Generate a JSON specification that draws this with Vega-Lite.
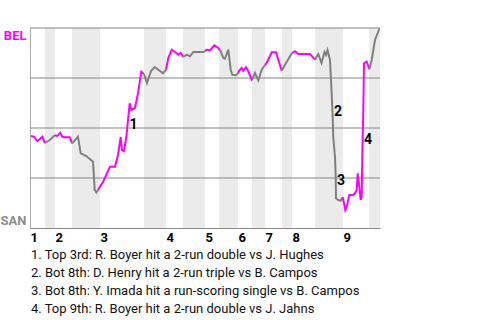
{
  "$schema": "https://vega.github.io/schema/vega-lite/v6.json",
  "autosize": "none",
  "width": 350,
  "height": 200,
  "padding": {"left": 30, "top": 28, "right": 100, "bottom": 92},
  "background": "white",
  "config": {"view": {"stroke": null}, "font": "Roboto"},
  "title": {
    "text": ["1. Top 3rd: R. Boyer hit a 2-run double vs J. Hughes", "2. Bot 8th: D. Henry hit a 2-run triple vs B. Campos", "3. Bot 8th: Y. Imada hit a run-scoring single vs B. Campos", "4. Top 9th: R. Boyer hit a 2-run double vs J. Jahns"],
    "orient": "bottom", "anchor": "start", "frame": "group", "font": "Roboto", "fontSize": 13, "fontWeight": "normal", "color": "#111111", "lineHeight": 18, "offset": 5, "dx": 1
  },
  "datasets": {
    "bands": [
      {"a": 15, "b": 25}, {"a": 42, "b": 70}, {"a": 114, "b": 136}, {"a": 153, "b": 175}, {"a": 189, "b": 208}, {"a": 222, "b": 235}, {"a": 252, "b": 262}, {"a": 285, "b": 313}, {"a": 339, "b": 350}
    ],
    "grid": [{"v": 25}, {"v": 50}, {"v": 75}, {"v": 100}],
    "notes": [
      {"label": "1", "x": 103.5, "y": 51.75},
      {"label": "2", "x": 308, "y": 58},
      {"label": "3", "x": 311, "y": 23.5},
      {"label": "4", "x": 338, "y": 44.25}
    ],
    "wp": [
      {"s": 1, "t": "BEL", "x": 1, "y": 46},
      {"s": 1, "t": "BEL", "x": 4, "y": 45.65},
      {"s": 1, "t": "BEL", "x": 7.3, "y": 43.5},
      {"s": 1, "t": "BEL", "x": 9.7, "y": 44.35},
      {"s": 1, "t": "BEL", "x": 12.3, "y": 45.65},
      {"s": 1, "t": "BEL", "x": 15, "y": 42.5},
      {"s": 2, "t": "SAN", "x": 15, "y": 42.5},
      {"s": 2, "t": "SAN", "x": 19.7, "y": 44},
      {"s": 2, "t": "SAN", "x": 24.7, "y": 46.35},
      {"s": 3, "t": "BEL", "x": 24.7, "y": 46.35},
      {"s": 3, "t": "BEL", "x": 27.3, "y": 46},
      {"s": 3, "t": "BEL", "x": 30.3, "y": 47.65},
      {"s": 3, "t": "BEL", "x": 32.3, "y": 45.65},
      {"s": 3, "t": "BEL", "x": 34.7, "y": 45.35},
      {"s": 3, "t": "BEL", "x": 39.7, "y": 45.35},
      {"s": 3, "t": "BEL", "x": 42.3, "y": 42.35},
      {"s": 4, "t": "SAN", "x": 42.3, "y": 42.35},
      {"s": 4, "t": "SAN", "x": 48, "y": 45.65},
      {"s": 4, "t": "SAN", "x": 50.7, "y": 37.35},
      {"s": 4, "t": "SAN", "x": 56.3, "y": 36},
      {"s": 4, "t": "SAN", "x": 63, "y": 33.15},
      {"s": 4, "t": "SAN", "x": 64.7, "y": 19},
      {"s": 4, "t": "SAN", "x": 66.3, "y": 17.75},
      {"s": 4, "t": "SAN", "x": 68, "y": 19},
      {"s": 5, "t": "BEL", "x": 68, "y": 19},
      {"s": 5, "t": "BEL", "x": 73, "y": 23},
      {"s": 5, "t": "BEL", "x": 80, "y": 30.65},
      {"s": 5, "t": "BEL", "x": 85, "y": 30.65},
      {"s": 5, "t": "BEL", "x": 88, "y": 36.5},
      {"s": 5, "t": "BEL", "x": 90.7, "y": 45.5},
      {"s": 5, "t": "BEL", "x": 92, "y": 39},
      {"s": 5, "t": "BEL", "x": 94, "y": 38.5},
      {"s": 5, "t": "BEL", "x": 96.3, "y": 45.5},
      {"s": 5, "t": "BEL", "x": 99.7, "y": 62.35},
      {"s": 5, "t": "BEL", "x": 101.3, "y": 59},
      {"s": 5, "t": "BEL", "x": 105, "y": 60},
      {"s": 5, "t": "BEL", "x": 108, "y": 67.35},
      {"s": 5, "t": "BEL", "x": 111.3, "y": 78.15},
      {"s": 5, "t": "BEL", "x": 113, "y": 77.35},
      {"s": 5, "t": "BEL", "x": 114, "y": 77},
      {"s": 6, "t": "SAN", "x": 114, "y": 77},
      {"s": 6, "t": "SAN", "x": 117, "y": 72.5},
      {"s": 6, "t": "SAN", "x": 121, "y": 78.5},
      {"s": 6, "t": "SAN", "x": 124.7, "y": 80.5},
      {"s": 6, "t": "SAN", "x": 130, "y": 78.5},
      {"s": 6, "t": "SAN", "x": 133, "y": 77.35},
      {"s": 6, "t": "SAN", "x": 136, "y": 79.15},
      {"s": 7, "t": "BEL", "x": 136, "y": 79.15},
      {"s": 7, "t": "BEL", "x": 138.3, "y": 85},
      {"s": 7, "t": "BEL", "x": 141.7, "y": 89.15},
      {"s": 7, "t": "BEL", "x": 145, "y": 88},
      {"s": 7, "t": "BEL", "x": 148.3, "y": 86.65},
      {"s": 7, "t": "BEL", "x": 150.7, "y": 87.5},
      {"s": 7, "t": "BEL", "x": 153.3, "y": 85.5},
      {"s": 8, "t": "SAN", "x": 153.3, "y": 85.5},
      {"s": 8, "t": "SAN", "x": 156.7, "y": 86.65},
      {"s": 8, "t": "SAN", "x": 160, "y": 85.85},
      {"s": 8, "t": "SAN", "x": 163.3, "y": 88},
      {"s": 8, "t": "SAN", "x": 166.7, "y": 88},
      {"s": 8, "t": "SAN", "x": 173.3, "y": 88},
      {"s": 8, "t": "SAN", "x": 175, "y": 88.5},
      {"s": 9, "t": "BEL", "x": 175, "y": 88.5},
      {"s": 9, "t": "BEL", "x": 176.7, "y": 89.15},
      {"s": 9, "t": "BEL", "x": 180, "y": 88.85},
      {"s": 9, "t": "BEL", "x": 184.3, "y": 91.35},
      {"s": 9, "t": "BEL", "x": 188.3, "y": 90},
      {"s": 9, "t": "BEL", "x": 189.5, "y": 89},
      {"s": 10, "t": "SAN", "x": 189.5, "y": 89},
      {"s": 10, "t": "SAN", "x": 190.7, "y": 88.35},
      {"s": 10, "t": "SAN", "x": 193.3, "y": 85},
      {"s": 10, "t": "SAN", "x": 195, "y": 84.65},
      {"s": 10, "t": "SAN", "x": 198.3, "y": 89.15},
      {"s": 10, "t": "SAN", "x": 200.7, "y": 79.15},
      {"s": 10, "t": "SAN", "x": 202.3, "y": 76.65},
      {"s": 10, "t": "SAN", "x": 205, "y": 76.35},
      {"s": 10, "t": "SAN", "x": 206.7, "y": 76.65},
      {"s": 10, "t": "SAN", "x": 208, "y": 77.5},
      {"s": 11, "t": "BEL", "x": 208, "y": 77.5},
      {"s": 11, "t": "BEL", "x": 209.3, "y": 78.65},
      {"s": 11, "t": "BEL", "x": 211.7, "y": 80},
      {"s": 11, "t": "BEL", "x": 213.3, "y": 78.65},
      {"s": 11, "t": "BEL", "x": 216, "y": 80.35},
      {"s": 11, "t": "BEL", "x": 218.3, "y": 78.35},
      {"s": 11, "t": "BEL", "x": 221.7, "y": 74.15},
      {"s": 11, "t": "BEL", "x": 222.5, "y": 74.75},
      {"s": 12, "t": "SAN", "x": 222.5, "y": 74.75},
      {"s": 12, "t": "SAN", "x": 225, "y": 77.5},
      {"s": 12, "t": "SAN", "x": 228.3, "y": 73.85},
      {"s": 12, "t": "SAN", "x": 231.7, "y": 79.15},
      {"s": 12, "t": "SAN", "x": 235, "y": 81.5},
      {"s": 13, "t": "BEL", "x": 235, "y": 81.5},
      {"s": 13, "t": "BEL", "x": 236.7, "y": 82.5},
      {"s": 13, "t": "BEL", "x": 241.7, "y": 87.85},
      {"s": 13, "t": "BEL", "x": 246, "y": 87.85},
      {"s": 13, "t": "BEL", "x": 251.7, "y": 78.65},
      {"s": 14, "t": "SAN", "x": 251.7, "y": 78.65},
      {"s": 14, "t": "SAN", "x": 255, "y": 81.65},
      {"s": 14, "t": "SAN", "x": 260, "y": 85.85},
      {"s": 14, "t": "SAN", "x": 262, "y": 87.5},
      {"s": 15, "t": "BEL", "x": 262, "y": 87.5},
      {"s": 15, "t": "BEL", "x": 265, "y": 88.35},
      {"s": 15, "t": "BEL", "x": 268.3, "y": 87},
      {"s": 15, "t": "BEL", "x": 273.3, "y": 87},
      {"s": 15, "t": "BEL", "x": 280, "y": 87},
      {"s": 15, "t": "BEL", "x": 285, "y": 84.15},
      {"s": 16, "t": "SAN", "x": 285, "y": 84.15},
      {"s": 16, "t": "SAN", "x": 288.3, "y": 87},
      {"s": 16, "t": "SAN", "x": 291.5, "y": 82.5},
      {"s": 16, "t": "SAN", "x": 294.5, "y": 88},
      {"s": 16, "t": "SAN", "x": 296, "y": 86.5},
      {"s": 16, "t": "SAN", "x": 297.5, "y": 89},
      {"s": 16, "t": "SAN", "x": 300, "y": 84},
      {"s": 16, "t": "SAN", "x": 301.5, "y": 69},
      {"s": 16, "t": "SAN", "x": 302.7, "y": 55},
      {"s": 16, "t": "SAN", "x": 303.3, "y": 45},
      {"s": 16, "t": "SAN", "x": 305, "y": 35.5},
      {"s": 16, "t": "SAN", "x": 305.7, "y": 25.5},
      {"s": 16, "t": "SAN", "x": 306, "y": 14.75},
      {"s": 16, "t": "SAN", "x": 308.3, "y": 14},
      {"s": 16, "t": "SAN", "x": 310.7, "y": 13.65},
      {"s": 16, "t": "SAN", "x": 312.7, "y": 15.35},
      {"s": 17, "t": "BEL", "x": 312.7, "y": 15.35},
      {"s": 17, "t": "BEL", "x": 314, "y": 12.35},
      {"s": 17, "t": "BEL", "x": 315.3, "y": 9},
      {"s": 17, "t": "BEL", "x": 316.7, "y": 10.65},
      {"s": 17, "t": "BEL", "x": 319.3, "y": 16.5},
      {"s": 17, "t": "BEL", "x": 323.3, "y": 16.5},
      {"s": 17, "t": "BEL", "x": 325, "y": 17.35},
      {"s": 17, "t": "BEL", "x": 326.7, "y": 19},
      {"s": 17, "t": "BEL", "x": 327.7, "y": 27.35},
      {"s": 17, "t": "BEL", "x": 329.3, "y": 20.65},
      {"s": 17, "t": "BEL", "x": 330.7, "y": 14},
      {"s": 17, "t": "BEL", "x": 331.7, "y": 15.65},
      {"s": 17, "t": "BEL", "x": 332.3, "y": 36.5},
      {"s": 17, "t": "BEL", "x": 333.3, "y": 59},
      {"s": 17, "t": "BEL", "x": 334, "y": 82.35},
      {"s": 17, "t": "BEL", "x": 336.7, "y": 83.15},
      {"s": 17, "t": "BEL", "x": 339.3, "y": 79.35},
      {"s": 18, "t": "SAN", "x": 339.3, "y": 79.35},
      {"s": 18, "t": "SAN", "x": 341.7, "y": 84},
      {"s": 18, "t": "SAN", "x": 345, "y": 94},
      {"s": 18, "t": "SAN", "x": 349.5, "y": 99.75}
    ]
  },
  "layer": [
    {
      "data": {"name": "bands"},
      "mark": {"type": "rect", "color": "#ebebeb"},
      "encoding": {
        "x": {"field": "a", "type": "quantitative", "scale": {"domain": [0, 350], "nice": false, "zero": false},
          "axis": {"values": [0, 25, 70, 136, 175, 208, 235, 262, 313], "labelExpr": "'' + (indexof([0, 25, 70, 136, 175, 208, 235, 262, 313], datum.value) + 1)", "title": null, "grid": false, "ticks": false, "domain": true, "domainColor": "#888888", "domainWidth": 1, "labelAlign": "left", "labelDx": 1, "labelPadding": 3, "labelFont": "Roboto", "labelFontSize": 13, "labelFontWeight": "bold", "labelColor": "#000000", "labelFlush": false, "labelOverlap": false}},
        "x2": {"field": "b"},
        "y": {"datum": 0, "type": "quantitative", "scale": {"domain": [0, 100], "nice": false, "zero": false},
          "axis": {"values": [96.5, 4], "labelExpr": "datum.value > 50 ? 'BEL' : 'SAN'", "labelColor": {"expr": "datum.value > 50 ? '#ff00ff' : '#8c8c8c'"}, "title": null, "grid": false, "ticks": false, "domain": true, "domainColor": "#aaaaaa", "domainWidth": 1, "labelPadding": 4, "labelFont": "Roboto", "labelFontSize": 13, "labelFontWeight": "bold", "labelBaseline": "middle"}},
        "y2": {"datum": 100}
      }
    },
    {
      "data": {"name": "grid"},
      "mark": {"type": "rule", "color": "#858585", "strokeWidth": 1},
      "encoding": {"y": {"field": "v", "type": "quantitative"}}
    },
    {
      "data": {"name": "wp"},
      "mark": {"type": "line", "strokeWidth": 2, "interpolate": "linear"},
      "encoding": {
        "x": {"field": "x", "type": "quantitative"},
        "y": {"field": "y", "type": "quantitative"},
        "detail": {"field": "s", "type": "nominal"},
        "color": {"field": "t", "type": "nominal", "scale": {"domain": ["BEL", "SAN"], "range": ["#ff00ff", "#808080"]}, "legend": null}
      }
    },
    {
      "data": {"name": "notes"},
      "mark": {"type": "text", "font": "Roboto", "fontSize": 14, "fontWeight": "bold", "color": "#000000", "align": "center", "baseline": "middle"},
      "encoding": {
        "x": {"field": "x", "type": "quantitative"},
        "y": {"field": "y", "type": "quantitative"},
        "text": {"field": "label"}
      }
    }
  ]
}
